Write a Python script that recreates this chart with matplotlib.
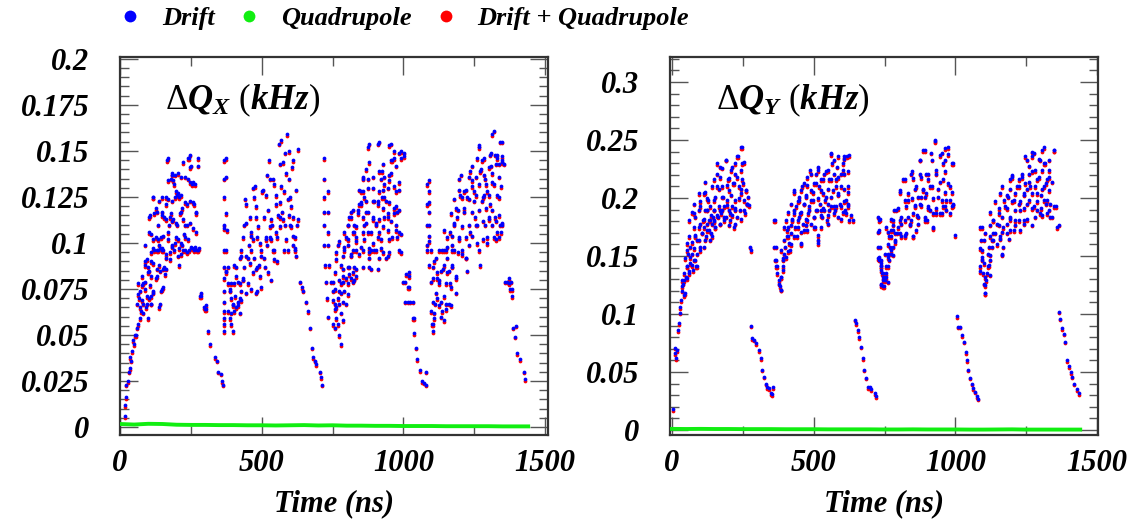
import matplotlib
matplotlib.use("Agg")
import matplotlib.pyplot as plt
from matplotlib.ticker import MultipleLocator, FormatStrFormatter
from matplotlib.lines import Line2D
import numpy as np

plt.rcParams['font.family'] = ['Liberation Serif', 'DejaVu Serif']
plt.rcParams['mathtext.fontset'] = 'custom'
plt.rcParams['mathtext.rm'] = 'Liberation Serif'
plt.rcParams['mathtext.it'] = 'Liberation Serif:bold:italic'

# ---- data: (time in ns, tune shift in kHz) ----
# horizontal plane, drift contribution
drift_x = [
    # first train
    (17,0.006),(17,0.012),(21,0.016),(23,0.023),(29,0.025),(32,0.030),(37,0.032),(40,0.036),(35,0.038),(44,0.041),
    (49,0.045),(52,0.050),(58,0.050),(46,0.047),(60,0.054),(64,0.056),(69,0.059),(75,0.063),(81,0.067),(67,0.070),
    (72,0.074),(81,0.078),(87,0.079),(92,0.065),(98,0.059),(104,0.070),(110,0.067),(116,0.074),(90,0.088),(102,0.085),
    (110,0.090),(121,0.096),(127,0.081),(136,0.065),(139,0.088),(144,0.074),(150,0.096),(156,0.087),(162,0.092),(102,0.114),
    (110,0.105),(116,0.125),(121,0.116),(127,0.119),(133,0.110),(139,0.123),(144,0.103),(150,0.097),(156,0.114),(162,0.121),
    (167,0.145),(173,0.110),(179,0.135),(185,0.137),(191,0.132),(196,0.128),(202,0.126),(208,0.125),(214,0.117),(219,0.119),
    (225,0.105),(231,0.110),(237,0.121),(243,0.146),(248,0.141),(254,0.132),(260,0.121),(185,0.099),(191,0.096),(196,0.103),
    (208,0.097),(214,0.094),(219,0.099),(231,0.103),(243,0.096),(254,0.097),(260,0.096),(266,0.132),(268,0.116),(271,0.096),
    (277,0.146),(277,0.142),(280,0.097),(179,0.116),(171,0.106),(185,0.112),(202,0.110),(210,0.088),(162,0.125),(150,0.117),
    (127,0.103),(133,0.096),(139,0.099),
    (170,0.146),(223,0.144),(240,0.146),(246,0.148),(252,0.142),(182,0.138),(194,0.137),(205,0.138),(217,0.136),(229,0.136),
    (240,0.135),(246,0.133),(258,0.133),(170,0.134),(188,0.134),(117,0.125),(147,0.125),(170,0.124),(182,0.123),(194,0.125),
    (205,0.127),(217,0.126),(229,0.122),(246,0.123),(258,0.122),(270,0.117),(106,0.115),(129,0.117),(147,0.115),(164,0.113),
    (176,0.114),(188,0.113),(199,0.111),(211,0.116),(223,0.113),(235,0.110),(246,0.111),(258,0.108),(270,0.106),(103,0.106),
    (117,0.102),(135,0.102),(152,0.104),(170,0.102),(182,0.098),(194,0.100),(205,0.102),(217,0.100),(229,0.096),(240,0.102),
    (252,0.098),(264,0.098),(276,0.096),(88,0.099),(94,0.091),(111,0.095),(117,0.097),(129,0.096),(141,0.097),(152,0.096),
    (164,0.094),(176,0.095),(205,0.093),(223,0.096),(235,0.095),(88,0.090),(100,0.087),(117,0.089),(129,0.086),(141,0.085),
    (152,0.086),(164,0.086),(176,0.091),(76,0.082),(100,0.084),(111,0.082),(129,0.082),(158,0.083),(65,0.078),(76,0.077),
    (88,0.075),(106,0.077),(117,0.073),(147,0.075),(152,0.076),(65,0.072),(76,0.069),(94,0.071),(111,0.071),(59,0.067),
    (70,0.065),(82,0.062),(94,0.067),(111,0.067),(141,0.067),
    (283,0.071),(298,0.065),(303,0.064),(312,0.052),(318,0.045),(335,0.038),(341,0.036),(347,0.030),(358,0.029),(360,0.025),
    (363,0.023),(287,0.073),(287,0.071),(305,0.066),(299,0.064),
    # second train
    (367,0.145),(367,0.135),(367,0.125),(367,0.110),(367,0.108),(367,0.096),(367,0.087),(367,0.081),(367,0.074),(367,0.068),
    (367,0.063),(367,0.059),(367,0.056),(367,0.052),
    (375,0.085),(381,0.078),(387,0.074),(393,0.070),(398,0.067),(404,0.063),(410,0.065),(416,0.068),(422,0.070),(381,0.063),
    (387,0.059),(393,0.056),(398,0.052),(404,0.078),(416,0.079),(427,0.074),(433,0.081),(439,0.087),(404,0.088),(422,0.092),
    (427,0.096),(433,0.103),(439,0.110),(445,0.121),(450,0.092),(456,0.099),(462,0.106),(468,0.130),(474,0.125),(479,0.114),
    (485,0.103),(491,0.088),(497,0.096),(502,0.128),(508,0.114),(514,0.103),(520,0.137),(526,0.145),(531,0.135),(537,0.110),
    (543,0.132),(549,0.121),(554,0.103),(560,0.154),(566,0.143),(572,0.117),(578,0.096),(583,0.110),(589,0.159),(595,0.135),
    (601,0.125),(606,0.141),(612,0.114),(618,0.103),(624,0.110),(629,0.151),(612,0.099),(462,0.096),(474,0.092),(485,0.087),
    (508,0.092),(520,0.099),(531,0.103),(543,0.096),(554,0.090),(450,0.078),(485,0.074),(566,0.114),(578,0.128),(595,0.150),
    (601,0.110),(618,0.097),
    (373,0.146),(373,0.136),(375,0.116),(378,0.107),(375,0.096),(381,0.087),(375,0.084),(393,0.078),(387,0.075),(405,0.071),
    (399,0.066),(416,0.066),(428,0.069),(393,0.062),(422,0.062),(440,0.124),(446,0.111),(457,0.114),(463,0.104),(469,0.102),
    (475,0.131),(481,0.120),(487,0.109),(493,0.100),(499,0.093),(504,0.129),(516,0.126),(522,0.118),(528,0.109),(534,0.102),
    (540,0.096),(510,0.087),(522,0.084),(534,0.080),(545,0.091),(551,0.106),(557,0.115),(563,0.122),(569,0.131),(575,0.144),
    (581,0.149),(587,0.138),(592,0.124),(598,0.115),(604,0.109),(610,0.104),(616,0.096),(622,0.093),(540,0.135),(551,0.126),
    (563,0.109),(587,0.102),(604,0.120),(610,0.145),(622,0.129),(628,0.113),(446,0.093),(457,0.089),(469,0.084),(481,0.086),
    (493,0.082),(411,0.082),(422,0.078),(434,0.080),(446,0.073),(463,0.075),(481,0.073),(499,0.076),(516,0.102),(534,0.113),
    (575,0.113),(592,0.096),(411,0.087),(428,0.093),(569,0.156),
    (635,0.079),(641,0.076),(647,0.074),(658,0.068),(664,0.063),(672,0.054),(679,0.043),(681,0.038),(687,0.036),(693,0.034),
    (705,0.030),(710,0.027),(714,0.023),
    # third train
    (720,0.146),(720,0.135),(720,0.125),(720,0.117),(720,0.110),(720,0.099),(725,0.088),(728,0.079),(730,0.070),(733,0.060),
    (733,0.128),(733,0.117),(733,0.106),(733,0.099),(739,0.088),(745,0.079),(751,0.074),(757,0.067),(763,0.059),(768,0.056),
    (774,0.050),(778,0.045),(757,0.054),(763,0.065),(768,0.070),(774,0.074),(780,0.078),(786,0.079),(792,0.074),(786,0.068),
    (798,0.081),(803,0.087),(809,0.083),(815,0.081),(821,0.079),(827,0.087),(768,0.099),(780,0.088),(792,0.096),(798,0.103),
    (803,0.110),(809,0.114),(815,0.117),(821,0.106),(827,0.110),(833,0.103),(839,0.116),(844,0.121),(850,0.128),(856,0.135),
    (862,0.125),(868,0.117),(874,0.106),(879,0.087),(885,0.096),(891,0.114),(897,0.123),(903,0.110),(909,0.103),(915,0.128),
    (920,0.135),(926,0.139),(932,0.132),(938,0.123),(944,0.114),(950,0.137),(956,0.145),(961,0.145),(967,0.150),(973,0.128),
    (979,0.117),(985,0.106),(991,0.150),(993,0.146),(985,0.096),(874,0.152),(909,0.154),(950,0.153),(850,0.121),(862,0.110),
    (879,0.097),(897,0.096),(920,0.097),(938,0.092),(961,0.103),(973,0.110),(803,0.099),(815,0.094),(833,0.096),(856,0.096),
    (909,0.121),(932,0.114),(967,0.119),(874,0.135),(891,0.130),(926,0.125),(944,0.130),
    (880,0.154),(915,0.155),(956,0.154),(985,0.149),(1003,0.149),(1003,0.147),(880,0.144),(927,0.143),(968,0.146),(974,0.142),
    (868,0.140),(915,0.139),(956,0.138),(856,0.136),(891,0.136),(933,0.136),(950,0.134),(985,0.133),(845,0.129),(874,0.130),
    (856,0.128),(927,0.129),(968,0.131),(985,0.129),(850,0.122),(868,0.123),(891,0.123),(909,0.123),(933,0.125),(950,0.122),
    (974,0.120),(985,0.118),(821,0.118),(839,0.118),(874,0.117),(927,0.119),(815,0.114),(856,0.114),(891,0.113),(915,0.113),
    (944,0.116),(968,0.116),(804,0.110),(833,0.109),(868,0.111),(903,0.111),(927,0.109),(956,0.112),(792,0.106),(827,0.106),
    (856,0.106),(886,0.106),(915,0.106),(944,0.107),(974,0.107),(991,0.105),(774,0.101),(804,0.102),(833,0.101),(862,0.102),
    (891,0.100),(921,0.102),(950,0.102),(979,0.103),(762,0.095),(792,0.098),(821,0.096),(850,0.098),(880,0.095),(903,0.096),
    (927,0.095),(950,0.095),(991,0.095),(762,0.091),(786,0.093),(815,0.093),(845,0.094),(880,0.092),(915,0.092),(944,0.093),
    (786,0.086),(809,0.087),(833,0.086),(856,0.087),(886,0.086),(909,0.086),(757,0.084),(786,0.082),(821,0.084),(833,0.082),
    (751,0.079),(774,0.080),(804,0.078),(827,0.080),(757,0.075),(780,0.073),(804,0.072),(751,0.069),(774,0.067),(798,0.067),
    (757,0.064),(780,0.062),(786,0.058),(751,0.056),
    (1000,0.079),(1008,0.083),(1016,0.076),(1005,0.068),(1023,0.068),(1032,0.059),(1037,0.051),(1043,0.043),(1049,0.037),
    (1059,0.031),(1067,0.025),(1073,0.024),(1078,0.023),(1078,0.030),(1021,0.084),(1021,0.082),(1006,0.079),(1021,0.076),
    (1015,0.068),(1032,0.068),(1038,0.059),
    # fourth train
    (1084,0.132),(1084,0.121),(1084,0.110),(1084,0.099),(1084,0.096),
    (1090,0.088),(1096,0.079),(1098,0.063),(1102,0.056),(1105,0.052),(1108,0.059),(1113,0.067),(1119,0.070),(1125,0.078),
    (1131,0.068),(1137,0.063),(1143,0.058),(1149,0.067),(1108,0.090),(1119,0.081),(1131,0.085),(1137,0.096),(1143,0.088),
    (1149,0.096),(1155,0.092),(1160,0.085),(1166,0.078),(1172,0.088),(1178,0.096),(1184,0.081),(1155,0.103),(1166,0.106),
    (1172,0.099),(1178,0.110),(1184,0.119),(1190,0.114),(1195,0.103),(1201,0.126),(1207,0.096),(1213,0.119),(1219,0.092),
    (1225,0.085),(1230,0.099),(1236,0.106),(1242,0.134),(1248,0.123),(1254,0.114),(1260,0.110),(1266,0.096),(1271,0.088),
    (1277,0.123),(1283,0.126),(1289,0.110),(1295,0.103),(1301,0.114),(1306,0.121),(1312,0.110),(1318,0.103),(1324,0.114),
    (1330,0.106),(1336,0.103),(1342,0.110),(1347,0.110),(1266,0.152),(1277,0.145),(1289,0.135),(1301,0.141),(1306,0.148),
    (1312,0.159),(1318,0.161),(1324,0.148),(1330,0.146),(1336,0.143),(1342,0.155),(1347,0.145),(1353,0.143),(1236,0.139),
    (1248,0.128),(1195,0.135),(1213,0.128),(1225,0.125),(1271,0.139),(1295,0.128),(1318,0.132),(1336,0.125),
    (1091,0.134),(1091,0.128),(1091,0.122),(1091,0.117),(1091,0.110),(1091,0.104),(1091,0.101),(1097,0.096),(1114,0.092),
    (1126,0.096),(1144,0.096),(1155,0.098),(1173,0.096),(1191,0.095),(1208,0.094),(1220,0.092),(1144,0.107),(1173,0.104),
    (1196,0.102),(1220,0.103),(1243,0.104),(1261,0.100),(1279,0.102),(1296,0.100),(1326,0.102),(1343,0.106),(1179,0.111),
    (1208,0.109),(1232,0.110),(1255,0.110),(1279,0.112),(1302,0.113),(1326,0.112),(1349,0.111),(1167,0.116),(1191,0.118),
    (1214,0.117),(1243,0.117),(1267,0.118),(1290,0.119),(1314,0.118),(1337,0.115),(1179,0.124),(1208,0.125),(1232,0.124),
    (1255,0.126),(1279,0.125),(1302,0.126),(1331,0.126),(1196,0.129),(1220,0.129),(1243,0.131),(1267,0.132),(1290,0.132),
    (1314,0.133),(1343,0.131),(1202,0.137),(1232,0.136),(1255,0.136),(1284,0.137),(1314,0.138),(1337,0.136),(1243,0.142),
    (1273,0.140),(1308,0.142),(1326,0.143),(1349,0.144),(1261,0.146),(1284,0.146),(1308,0.149),(1331,0.148),(1349,0.147),
    (1267,0.153),(1349,0.155),(1103,0.087),(1120,0.084),(1138,0.086),(1155,0.084),(1173,0.087),(1185,0.082),(1103,0.081),
    (1126,0.080),(1150,0.078),(1167,0.076),(1185,0.073),(1114,0.073),(1144,0.071),(1161,0.067),(1103,0.068),(1126,0.066),
    (1150,0.064),(1167,0.066),(1109,0.062),(1132,0.060),(1103,0.056),
    (1359,0.079),(1365,0.079),(1371,0.078),(1377,0.075),(1383,0.071),(1388,0.054),(1394,0.049),(1400,0.040),(1412,0.037),
    (1424,0.030),(1429,0.026),(1372,0.081),(1378,0.079),(1384,0.075),(1396,0.055),
]

# vertical plane, drift contribution
drift_y = [
    # first train
    (5,0.018),(11,0.071),(11,0.066),(15,0.062),(17,0.069),(20,0.086),(23,0.092),(27,0.101),(29,0.106),(31,0.112),
    (35,0.120),(39,0.126),(43,0.129),(47,0.118),(50,0.132),(53,0.141),(55,0.152),(59,0.135),(62,0.144),(65,0.158),
    (70,0.152),(74,0.138),(76,0.147),(79,0.187),(82,0.167),(86,0.141),(88,0.164),(94,0.175),(98,0.155),(100,0.193),
    (106,0.170),(109,0.181),(112,0.204),(114,0.158),(118,0.190),(121,0.167),(124,0.172),(126,0.198),(130,0.181),(133,0.164),
    (135,0.193),(138,0.170),(141,0.178),(145,0.184),(147,0.190),(150,0.201),(153,0.175),(157,0.221),(159,0.210),(161,0.184),
    (165,0.193),(169,0.178),(171,0.227),(173,0.187),(177,0.210),(180,0.201),(183,0.193),(185,0.181),(189,0.233),(192,0.184),
    (195,0.198),(197,0.216),(200,0.207),(204,0.187),(206,0.181),(209,0.224),(212,0.193),(216,0.213),(218,0.175),(221,0.198),
    (224,0.230),(228,0.184),(230,0.218),(232,0.236),(236,0.210),(240,0.190),(242,0.204),(244,0.244),(248,0.230),(251,0.213),
    (254,0.198),(256,0.187),(260,0.207),(263,0.195),(266,0.195),(268,0.201),(135,0.181),(112,0.175),(88,0.152),(124,0.190),
    (147,0.181),(177,0.190),(200,0.190),(224,0.190),
    (248,0.244),(159,0.230),(189,0.233),(230,0.236),(254,0.231),(177,0.226),(212,0.227),(242,0.224),(118,0.214),(147,0.216),
    (171,0.218),(201,0.217),(224,0.221),(248,0.216),(94,0.204),(118,0.205),(142,0.210),(165,0.208),(195,0.211),(218,0.213),
    (242,0.208),(260,0.207),(77,0.195),(100,0.197),(124,0.200),(147,0.198),(177,0.201),(207,0.203),(236,0.200),(266,0.195),
    (71,0.188),(94,0.190),(124,0.190),(147,0.190),(171,0.190),(195,0.194),(224,0.191),(254,0.190),(272,0.194),(59,0.181),
    (82,0.184),(112,0.182),(136,0.185),(159,0.185),(183,0.184),(212,0.185),(242,0.182),(77,0.175),(100,0.178),(124,0.178),
    (147,0.180),(171,0.178),(201,0.177),(224,0.178),(59,0.167),(82,0.168),(106,0.170),(130,0.172),(153,0.175),(53,0.161),
    (71,0.162),(94,0.164),(118,0.164),(142,0.167),(53,0.155),(77,0.157),(100,0.158),(47,0.148),(65,0.149),(82,0.147),
    (53,0.141),(71,0.142),(88,0.141),(41,0.135),(59,0.137),(35,0.129),(53,0.131),(35,0.124),(41,0.116),
    (275,0.158),(277,0.155),(280,0.090),(283,0.079),(289,0.078),(295,0.075),(307,0.069),(313,0.062),(319,0.052),(325,0.046),
    (331,0.040),(336,0.037),(342,0.036),(348,0.032),(354,0.031),(358,0.037),
    # second train
    (364,0.181),(366,0.158),(364,0.147),(367,0.141),(372,0.135),(378,0.129),(381,0.124),(384,0.121),(386,0.132),(390,0.141),
    (393,0.147),(396,0.152),(398,0.158),(401,0.149),(405,0.167),(407,0.172),(410,0.175),(413,0.161),(417,0.155),(419,0.170),
    (425,0.181),(429,0.187),(431,0.207),(433,0.175),(437,0.193),(440,0.167),(443,0.181),(449,0.198),(452,0.187),(455,0.161),
    (457,0.210),(461,0.178),(464,0.195),(466,0.213),(472,0.201),(476,0.181),(478,0.218),(481,0.187),(484,0.193),(488,0.224),
    (490,0.207),(496,0.198),(500,0.184),(502,0.213),(504,0.175),(508,0.221),(511,0.190),(514,0.227),(516,0.164),(520,0.210),
    (523,0.195),(526,0.216),(528,0.184),(531,0.204),(535,0.221),(537,0.190),(543,0.201),(547,0.181),(549,0.224),(552,0.195),
    (555,0.216),(561,0.239),(563,0.230),(567,0.207),(570,0.193),(573,0.233),(575,0.190),(579,0.216),(582,0.227),(585,0.204),
    (587,0.184),(591,0.195),(596,0.210),(602,0.224),(606,0.236),(608,0.221),(611,0.190),(614,0.198),(618,0.236),(620,0.210),
    (622,0.193),(626,0.181),(614,0.187),(466,0.172),(490,0.178),(526,0.190),(561,0.193),(596,0.193),
    (561,0.238),(585,0.236),(608,0.234),(626,0.237),(603,0.230),(490,0.221),(514,0.224),(543,0.223),(573,0.221),(597,0.221),
    (620,0.223),(455,0.207),(478,0.211),(508,0.213),(532,0.216),(561,0.216),(585,0.218),(431,0.205),(449,0.201),(473,0.203),
    (496,0.205),(526,0.207),(549,0.208),(579,0.210),(608,0.208),(620,0.205),(419,0.195),(443,0.197),(467,0.195),(490,0.198),
    (514,0.200),(538,0.198),(561,0.201),(585,0.203),(608,0.197),(620,0.195),(408,0.188),(431,0.190),(455,0.188),(484,0.190),
    (508,0.190),(532,0.191),(555,0.190),(579,0.193),(603,0.188),(632,0.185),(360,0.181),(402,0.181),(425,0.182),(449,0.184),
    (473,0.182),(502,0.184),(526,0.185),(549,0.185),(573,0.187),(597,0.182),(638,0.181),(396,0.175),(419,0.177),(443,0.175),
    (473,0.177),(502,0.175),(526,0.175),(549,0.178),(408,0.167),(431,0.167),(455,0.171),(478,0.172),(514,0.168),(396,0.164),
    (419,0.160),(455,0.160),(514,0.161),(360,0.158),(384,0.155),(408,0.154),(366,0.147),(390,0.148),(372,0.141),(390,0.138),
    (384,0.132),(378,0.126),(384,0.121),
    (644,0.095),(650,0.092),(656,0.086),(661,0.080),(667,0.072),(673,0.062),(679,0.052),(685,0.045),(691,0.037),(697,0.037),
    (703,0.035),(715,0.032),(721,0.029),
    # third train
    (726,0.184),(729,0.181),(732,0.172),(726,0.158),(732,0.149),(736,0.147),(738,0.141),(741,0.135),(744,0.129),(748,0.124),
    (750,0.132),(756,0.141),(762,0.152),(768,0.158),(774,0.167),(780,0.172),(783,0.190),
    (732,0.147),(738,0.141),(744,0.135),(750,0.129),(756,0.132),(744,0.124),(738,0.126),(762,0.141),(767,0.147),(773,0.152),
    (779,0.158),(785,0.164),(767,0.167),(773,0.172),(779,0.181),(785,0.170),(791,0.190),(797,0.175),(803,0.207),(809,0.184),
    (815,0.216),(821,0.181),(827,0.170),(832,0.198),(838,0.178),(844,0.221),(850,0.167),(856,0.193),(862,0.210),(868,0.184),
    (874,0.233),(880,0.201),(886,0.241),(892,0.181),(897,0.221),(903,0.193),(909,0.210),(915,0.239),(921,0.175),(927,0.250),
    (933,0.224),(939,0.201),(945,0.187),(951,0.239),(957,0.216),(962,0.233),(968,0.198),(974,0.244),(980,0.210),(986,0.193),
    (990,0.230),(992,0.195),(803,0.170),(821,0.167),(844,0.181),(874,0.195),(897,0.204),(933,0.187),(957,0.193),(850,0.187),
    (886,0.207),(909,0.190),(968,0.190),(862,0.172),
    (928,0.249),(892,0.241),(963,0.243),(975,0.238),(874,0.233),(916,0.233),(945,0.237),(957,0.230),(987,0.230),(845,0.223),
    (874,0.221),(904,0.221),(933,0.221),(963,0.223),(821,0.216),(851,0.217),(880,0.218),(904,0.216),(945,0.214),(975,0.213),
    (857,0.208),(886,0.208),(916,0.210),(939,0.208),(963,0.205),(987,0.205),(803,0.205),(833,0.204),(821,0.198),(845,0.200),
    (868,0.201),(892,0.201),(922,0.200),(951,0.198),(981,0.198),(798,0.191),(827,0.193),(857,0.194),(880,0.194),(904,0.191),
    (933,0.191),(963,0.193),(993,0.194),(774,0.182),(803,0.181),(833,0.184),(863,0.185),(892,0.184),(922,0.187),(951,0.187),
    (981,0.187),(733,0.182),(756,0.175),(780,0.177),(809,0.178),(839,0.177),(868,0.178),(898,0.181),(922,0.174),(762,0.171),
    (792,0.170),(821,0.168),(851,0.167),(809,0.167),(727,0.171),(733,0.158),(762,0.160),(786,0.162),(750,0.152),(774,0.155),
    (727,0.148),(738,0.144),(762,0.149),(780,0.151),(738,0.138),(756,0.135),(744,0.132),(762,0.128),(738,0.125),
    (998,0.168),(1004,0.098),(1010,0.089),(1016,0.089),(1022,0.082),(1030,0.076),(1037,0.067),(1042,0.060),(1045,0.052),
    (1051,0.045),(1057,0.040),(1063,0.036),(1069,0.033),(1075,0.029),(1081,0.027),
    # fourth train
    (1087,0.175),(1089,0.164),(1093,0.155),(1087,0.141),(1093,0.147),(1098,0.135),(1101,0.126),(1104,0.118),(1108,0.129),
    (1110,0.135),(1113,0.141),(1116,0.152),(1122,0.147),(1128,0.158),(1134,0.164),(1140,0.170),(1146,0.178),(1122,0.167),
    (1134,0.181),(1152,0.187),(1158,0.167),(1163,0.152),(1169,0.175),(1175,0.193),(1181,0.170),(1187,0.201),(1193,0.184),
    (1199,0.218),(1205,0.198),(1211,0.181),(1217,0.210),(1223,0.195),(1228,0.190),(1234,0.218),(1240,0.204),(1246,0.213),
    (1252,0.195),(1258,0.221),(1264,0.210),(1270,0.236),(1276,0.193),(1282,0.224),(1288,0.204),(1293,0.218),(1299,0.187),
    (1305,0.241),(1311,0.210),(1317,0.230),(1323,0.198),(1329,0.224),(1335,0.195),(1341,0.184),(1347,0.241),(1353,0.193),
    (1358,0.175),(1252,0.233),(1276,0.239),(1299,0.233),(1323,0.216),(1169,0.158),(1205,0.172),(1240,0.181),(1288,0.190),
    (1323,0.187),(1228,0.172),(1311,0.198),
    (1312,0.244),(1270,0.240),(1347,0.241),(1247,0.236),(1294,0.234),(1329,0.233),(1259,0.228),(1312,0.230),(1199,0.220),
    (1235,0.221),(1270,0.223),(1306,0.224),(1329,0.218),(1194,0.216),(1223,0.216),(1259,0.214),(1288,0.216),(1318,0.213),
    (1341,0.214),(1164,0.210),(1194,0.208),(1223,0.210),(1253,0.208),(1282,0.210),(1306,0.208),(1329,0.207),(1158,0.204),
    (1182,0.203),(1211,0.204),(1241,0.203),(1270,0.204),(1300,0.203),(1140,0.197),(1170,0.198),(1199,0.197),(1229,0.197),
    (1259,0.198),(1288,0.197),(1318,0.195),(1347,0.193),(1123,0.188),(1152,0.191),(1182,0.191),(1211,0.190),(1241,0.191),
    (1270,0.191),(1300,0.191),(1329,0.190),(1134,0.181),(1164,0.184),(1194,0.182),(1223,0.181),(1253,0.182),(1282,0.184),
    (1306,0.185),(1335,0.184),(1093,0.175),(1123,0.177),(1152,0.177),(1182,0.178),(1211,0.177),(1241,0.178),(1270,0.177),
    (1365,0.177),(1105,0.170),(1134,0.170),(1164,0.171),(1194,0.172),(1099,0.164),(1129,0.164),(1158,0.165),(1188,0.165),
    (1087,0.157),(1117,0.158),(1146,0.160),(1093,0.149),(1123,0.151),(1164,0.151),(1099,0.144),(1117,0.142),(1087,0.137),
    (1105,0.132),(1123,0.134),(1105,0.125),(1105,0.118),
    (1364,0.102),(1370,0.096),(1376,0.088),(1382,0.083),(1388,0.076),(1394,0.060),(1400,0.055),(1406,0.050),(1412,0.046),
    (1418,0.040),(1429,0.035),(1435,0.032),
]

# quadrupole contribution (tiny, nearly flat)
quad_t = [0, 50, 100, 150, 200, 250, 300, 350, 400, 450, 500, 550, 600, 650, 700,
          750, 800, 850, 900, 950, 1000, 1050, 1100, 1150, 1200, 1250, 1300, 1350, 1400, 1440]
quad_x = [0.0016, 0.0013, 0.0017, 0.0016, 0.0012, 0.0011, 0.0011, 0.0010, 0.0010, 0.0009,
          0.0009, 0.0008, 0.0009, 0.0010, 0.0008, 0.0009, 0.0007, 0.0007, 0.0006, 0.0006,
          0.0005, 0.0005, 0.0005, 0.0004, 0.0004, 0.0004, 0.0004, 0.0003, 0.0003, 0.0003]
quad_y = [0.0010, 0.0009, 0.0010, 0.0009, 0.0009, 0.0008, 0.0008, 0.0008, 0.0007, 0.0007,
          0.0007, 0.0006, 0.0006, 0.0006, 0.0006, 0.0005, 0.0005, 0.0006, 0.0005, 0.0005,
          0.0005, 0.0004, 0.0004, 0.0005, 0.0006, 0.0004, 0.0004, 0.0004, 0.0004, 0.0004]

# drift+quadrupole sits just under the drift points
combined_shift = {'x': -0.0009, 'y': -0.0014}

panels = [
    ('x', drift_x, quad_x, r'$\Delta Q_X\ (kHz)$', (0, 1510), (-0.0044, 0.201), 0.025, 0.005),
    ('y', drift_y, quad_y, r'$\Delta Q_Y\ (kHz)$', (-7, 1503), (-0.0043, 0.3215), 0.05, 0.01),
]

fig = plt.figure(figsize=(11.36, 5.21), dpi=100)
ax_boxes = [[0.1056, 0.165, 0.3768, 0.7255], [0.5898, 0.165, 0.3768, 0.7255]]
tick_font = dict(family='Liberation Serif', weight='bold', style='italic', size=22)

for box, (plane, drift, quad, title, xlim, ylim, major, minor) in zip(ax_boxes, panels):
    ax = fig.add_axes(box)
    d = np.array(drift)
    ax.plot(d[:, 0], d[:, 1] + combined_shift[plane], 'o', color='#ff0000', ms=2.7, mew=0, zorder=2)
    ax.plot(d[:, 0], d[:, 1], 'o', color='#0000ff', ms=2.7, mew=0, zorder=3)
    ax.plot(quad_t, quad, '-', color='#11ee11', lw=2.8, zorder=4)

    ax.set_xlim(*xlim)
    ax.set_ylim(*ylim)
    ax.xaxis.set_major_locator(MultipleLocator(500))
    ax.xaxis.set_minor_locator(MultipleLocator(250))
    ax.yaxis.set_major_locator(MultipleLocator(major))
    ax.yaxis.set_minor_locator(MultipleLocator(minor))
    ax.yaxis.set_major_formatter(FormatStrFormatter('%g'))
    ax.xaxis.set_major_formatter(FormatStrFormatter('%g'))
    ax.tick_params(which='both', direction='in', top=True, right=True, color='#555555', width=1.0)
    ax.tick_params(which='major', length=13)
    ax.tick_params(which='minor', length=6.5)
    ax.tick_params(axis='y', which='major', pad=22)
    ax.tick_params(axis='x', which='major', pad=10)
    for lab in ax.get_xticklabels() + ax.get_yticklabels():
        lab.set_fontproperties(tick_font)
    for sp in ax.spines.values():
        sp.set_linewidth(1.6)
        sp.set_color('#333333')

    ax.set_xlabel('Time (ns)', fontsize=22, fontweight='bold', fontstyle='italic', labelpad=8)
    ax.text(0.287, 0.885, title, transform=ax.transAxes, ha='center', va='center', fontsize=25)

handles = [
    Line2D([], [], ls='none', marker='o', color='#0000ff', ms=8.5, mew=0),
    Line2D([], [], ls='none', marker='o', color='#11ee11', ms=8.5, mew=0),
    Line2D([], [], ls='none', marker='o', color='#ff0000', ms=8.5, mew=0),
]
fig.legend(handles, ['Drift', 'Quadrupole', 'Drift + Quadrupole'], loc='center left',
           bbox_to_anchor=(0.087, 0.965), ncol=3, frameon=False, handlelength=0.6,
           handletextpad=0.9, columnspacing=1.0,
           prop=dict(family='Liberation Serif', weight='bold', style='italic', size=19))

fig.savefig('out.png', dpi=100, facecolor='white')
